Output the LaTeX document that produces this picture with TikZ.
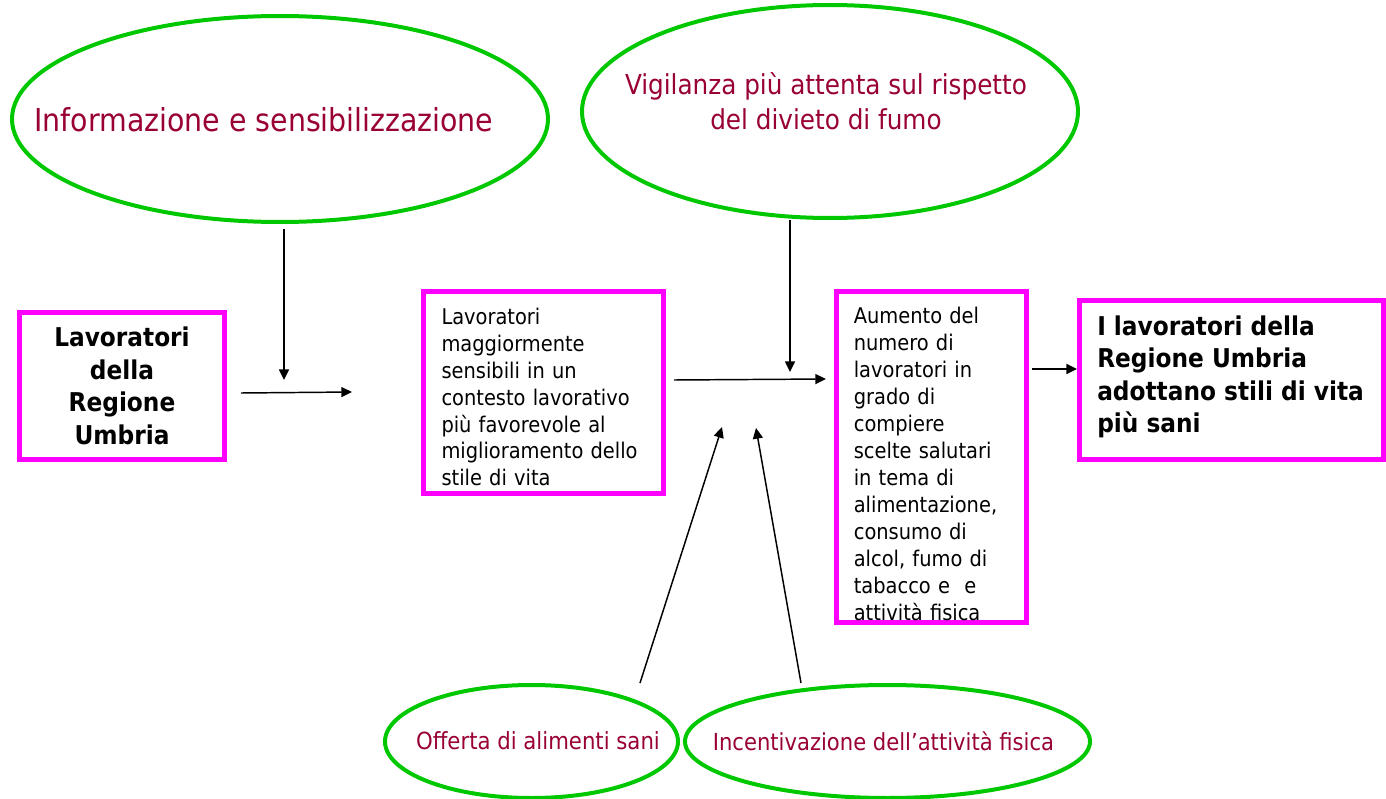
\documentclass[tikz,border=0pt]{standalone}
\usepackage{fontspec}
\setmainfont{DejaVu Sans Condensed}
\usetikzlibrary{arrows.meta,shapes.geometric}
\definecolor{mar}{HTML}{990033}
\definecolor{grn}{HTML}{00C800}
\definecolor{mag}{HTML}{FF00FF}
\tikzset{
  ell/.style={draw=grn, line width=3pt, ellipse, inner sep=0pt},
  lbl/.style={text=mar, align=center, inner sep=0pt},
  box/.style={draw=mag, line width=3.75pt, rectangle, inner sep=0pt},
  small/.style={font=\fontsize{16.2pt}{20.2pt}\selectfont, align=left, inner sep=0pt},
  big/.style={font=\fontsize{19.4pt}{24.4pt}\selectfont\bfseries, inner sep=0pt},
  arr/.style={line width=1.1pt, -{Triangle[length=8pt,width=7.5pt]}}
}
\begin{document}
\begin{tikzpicture}[x=0.75pt,y=-0.75pt]
\useasboundingbox (0,0) rectangle (1386,799);
% ellipses
\node[ell, minimum width=402pt, minimum height=154.5pt] (e1) at (280,119) {};
\node[lbl, font=\fontsize{23.7pt}{28pt}\selectfont] (t1) at (264,120) {Informazione e sensibilizzazione};
\node[ell, minimum width=372pt, minimum height=159.75pt] (e2) at (830,111.5) {};
\node[lbl, font=\fontsize{20.6pt}{26pt}\selectfont] (t2) at (826,101) {Vigilanza più attenta sul rispetto\\del divieto di fumo};
\node[ell, minimum width=219.75pt, minimum height=84.75pt] (e3) at (531.5,741.5) {};
\node[lbl, font=\fontsize{17.7pt}{22pt}\selectfont] (t3) at (538,741) {Offerta di alimenti sani};
\node[ell, minimum width=303.75pt, minimum height=84.75pt] (e4) at (887.5,741.5) {};
\node[lbl, font=\fontsize{17.6pt}{22pt}\selectfont] (t4) at (883.5,741) {Incentivazione dell’attività fisica};
% boxes
\node[box, minimum width=153.75pt, minimum height=110.25pt] (b1) at (122,386) {};
\node[big, align=center] (bt1) at (b1.center) {Lavoratori\\della\\Regione\\Umbria};
\node[box, minimum width=180pt, minimum height=151.5pt] (b2) at (543.5,392.5) {};
\node[small, text width=153pt] (bt2) at ([yshift=-3.4pt]b2.center) {Lavoratori\\maggiormente\\sensibili in un\\contesto lavorativo\\più favorevole al\\miglioramento dello\\stile di vita};
\node[box, minimum width=142.5pt, minimum height=248.25pt] (b3) at (931.5,457) {};
\node[small, text width=116.5pt] (bt3) at ([yshift=-5.25pt]b3.center) {Aumento del\\numero di\\lavoratori in\\grado di\\compiere\\scelte salutari\\in tema di\\alimentazione,\\consumo di\\alcol, fumo di\\tabacco e\ \ e\\attività fisica};
\node[box, minimum width=228pt, minimum height=119.25pt] (b4) at (1231.5,380) {};
\node[big, align=left, anchor=west] (bt4) at (1097,377) {I lavoratori della\\Regione Umbria\\adottano stili di vita\\più sani};
% free ends
\coordinate (a1s) at (284,229); \coordinate (a1e) at (284,380);
\coordinate (a2s) at (241,393); \coordinate (a2e) at (352,392);
\coordinate (a3s) at (674,380); \coordinate (a3e) at (826,379);
\coordinate (a4s) at (790,220); \coordinate (a4e) at (790,372);
\coordinate (a5s) at (640,683); \coordinate (a5e) at (722,427);
\coordinate (a6s) at (801,683); \coordinate (a6e) at (756,428);
\coordinate (y7) at (0,369);
\draw[arr] (a1s) -- (a1e);
\draw[arr] (a2s) -- (a2e);
\draw[arr] (a3s) -- (a3e);
\draw[arr] (a4s) -- (a4e);
\draw[arr] (a5s) -- (a5e);
\draw[arr] (a6s) -- (a6e);
\draw[arr] ([xshift=2pt]b3.east |- y7) -- (b4.west |- y7);
\end{tikzpicture}
\end{document}
